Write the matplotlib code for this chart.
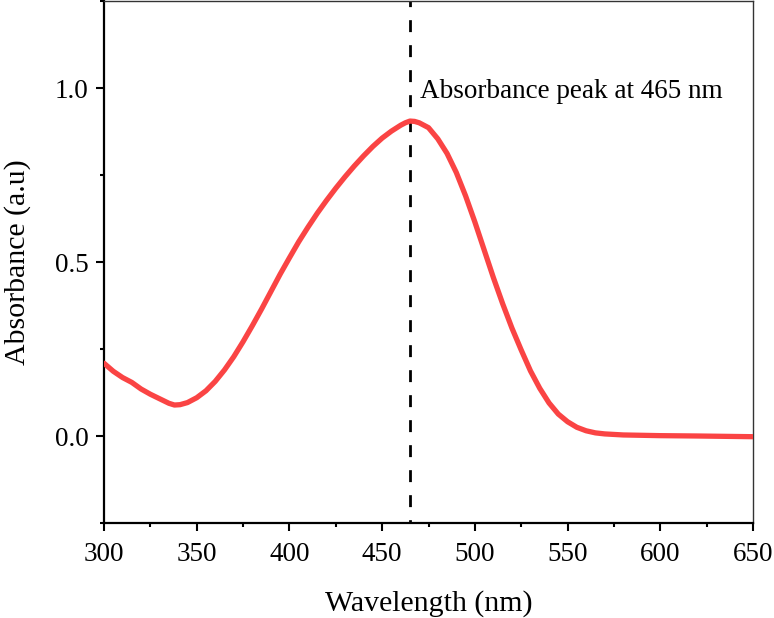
import matplotlib
matplotlib.use("Agg")
import matplotlib.pyplot as plt
from matplotlib.ticker import MultipleLocator

plt.rcParams['font.family'] = ['Liberation Serif', 'DejaVu Serif']

wavelength = [300, 305, 310, 315, 320, 325, 330, 335, 338, 341, 345, 350, 355, 360, 365,
              370, 375, 380, 385, 390, 395, 400, 405, 410, 415, 420, 425, 430, 435,
              440, 445, 450, 455, 460, 462.5, 465, 467.5, 470, 475, 480, 485, 490, 495,
              500, 505, 510, 515, 520, 525, 530, 535, 540, 545, 550, 555, 560, 565,
              570, 580, 590, 600, 620, 650]
absorbance = [0.209, 0.186, 0.168, 0.154, 0.135, 0.120, 0.107, 0.094, 0.089, 0.090, 0.096,
              0.110, 0.130, 0.157, 0.190, 0.228, 0.271, 0.317, 0.365, 0.415, 0.465,
              0.512, 0.558, 0.600, 0.640, 0.677, 0.712, 0.745, 0.776, 0.805, 0.832,
              0.856, 0.876, 0.893, 0.900, 0.905, 0.904, 0.900, 0.886, 0.854, 0.812,
              0.757, 0.690, 0.615, 0.535, 0.455, 0.380, 0.310, 0.247, 0.187, 0.137,
              0.095, 0.063, 0.041, 0.025, 0.015, 0.009, 0.006, 0.003, 0.002, 0.001,
              0.000, -0.002]

peak_nm = 465
annotation = "Absorbance peak at 465 nm"
xlabel = "Wavelength (nm)"
ylabel = "Absorbance (a.u)"
xticks = [300, 350, 400, 450, 500, 550, 600, 650]
yticks = [0.0, 0.5, 1.0]

fig = plt.figure(figsize=(7.74, 6.18), dpi=100)
ax = fig.add_axes([104/774, 1 - 523/618, (753-104)/774, (523-1)/618])

ax.plot(wavelength, absorbance, color='#FA4444', linewidth=3.8,
        solid_capstyle='round', solid_joinstyle='round', zorder=3)
ax.axvline(peak_nm, color='black', linewidth=2.0, linestyle=(3.1, (4.3, 4.7)), zorder=2)
ax.text(470.5, 0.99, annotation, fontsize=19.5, va='center', ha='left')

ax.set_xlim(300, 650)
ax.set_ylim(-0.25, 1.25)
ax.set_xticks(xticks)
ax.set_yticks(yticks)
ax.set_yticklabels([f"{v:.1f}" for v in yticks])
ax.xaxis.set_minor_locator(MultipleLocator(25))
ax.yaxis.set_minor_locator(MultipleLocator(0.25))

ax.tick_params(axis='both', which='major', direction='out', length=6, width=1.5, labelsize=19.5)
ax.tick_params(axis='x', which='major', pad=8)
ax.tick_params(axis='y', which='major', pad=5)
ax.tick_params(axis='both', which='minor', direction='out', length=3, width=1.5)
ax.tick_params(top=False, right=False, which='both')

for s in ['left', 'bottom']:
    ax.spines[s].set_linewidth(1.6)
    ax.spines[s].set_color('black')
for s in ['top', 'right']:
    ax.spines[s].set_linewidth(1.0)
    ax.spines[s].set_color('#333333')

ax.set_xlabel(xlabel, fontsize=21.5, labelpad=16)
ax.set_ylabel(ylabel, fontsize=21.5, labelpad=17)

fig.savefig("out.png", dpi=100)
